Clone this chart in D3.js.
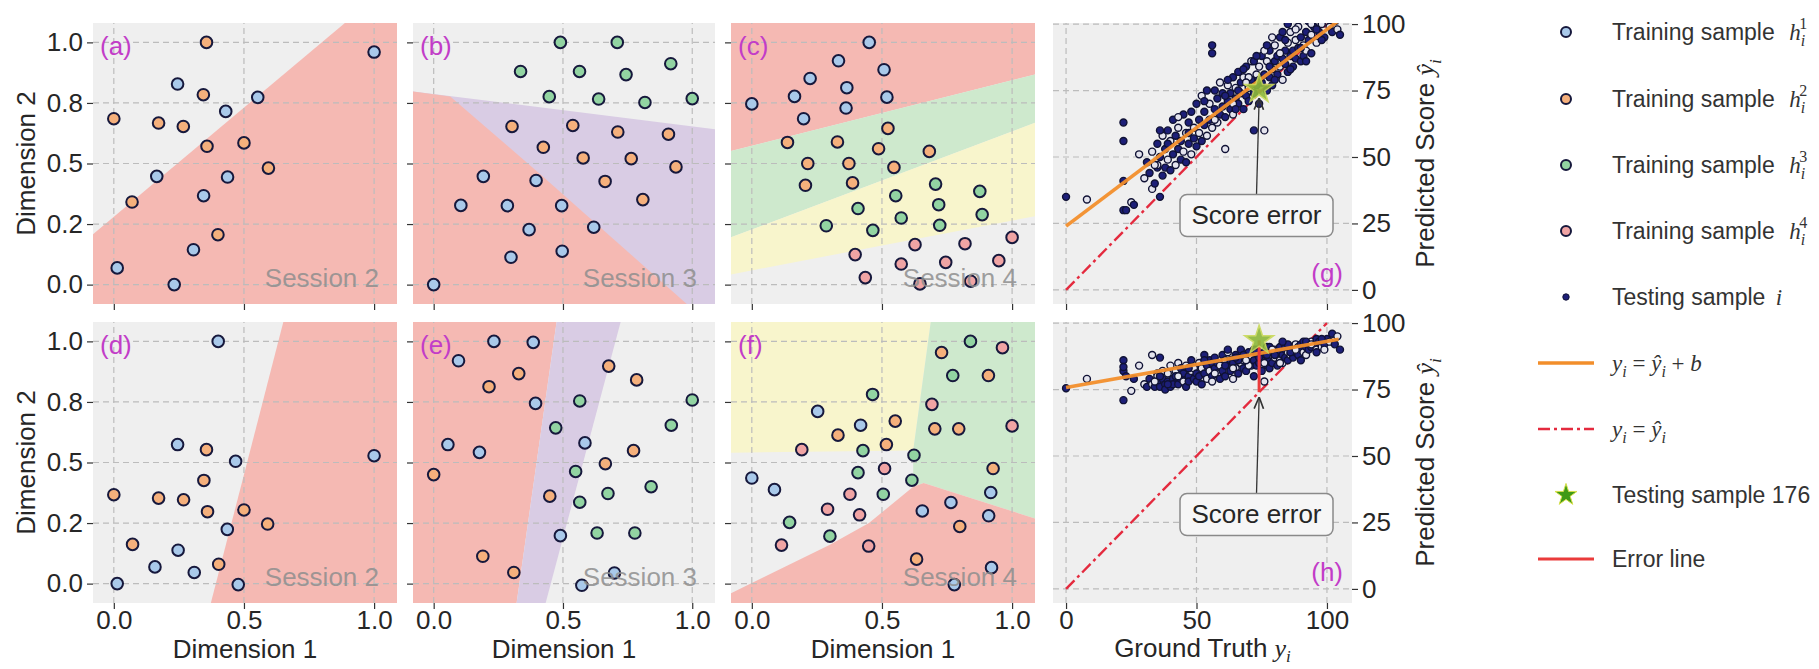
<!DOCTYPE html>
<html>
<head>
<meta charset="utf-8">
<script src="https://cdn.jsdelivr.net/npm/d3@7"></script>
<style>
  body { margin: 0; background: #fff; }
  svg { font-family: "Liberation Sans", Arial, sans-serif; }
  text { white-space: pre; }
</style>
</head>
<body>
<svg id="chart" width="1819" height="669"></svg>
<script>
// ---- training samples ([dim1, dim2]) ----
const aBlue = [[1.0,0.96],[0.245,0.828],[0.553,0.773],[0.43,0.715],[0.165,0.447],[0.437,0.444],[0.345,0.367],[0.306,0.144],[0.013,0.069],[0.232,0.0]];
const aOrange = [[0.356,1.0],[0.344,0.784],[0.0,0.685],[0.172,0.667],[0.267,0.653],[0.358,0.571],[0.5,0.585],[0.594,0.481],[0.07,0.341],[0.4,0.206]];

const bBlue = [[0.192,0.447],[0.396,0.43],[0.105,0.327],[0.285,0.326],[0.495,0.326],[0.369,0.227],[0.619,0.237],[0.299,0.113],[0.497,0.138],[0.0,0.0]];
const bOrange = [[0.303,0.653],[0.538,0.657],[0.712,0.63],[0.908,0.621],[0.424,0.567],[0.578,0.523],[0.764,0.52],[0.937,0.486],[0.663,0.426],[0.809,0.351]];
const bGreen = [[0.49,1.0],[0.71,1.0],[0.336,0.88],[0.564,0.88],[0.744,0.867],[0.917,0.912],[0.447,0.776],[0.638,0.766],[0.817,0.752],[1.0,0.768]];

const cBlue = [[0.451,1.0],[0.333,0.924],[0.508,0.887],[0.224,0.851],[0.365,0.813],[0.164,0.777],[0.519,0.774],[0.0,0.746],[0.362,0.729],[0.199,0.685]];
const cOrange = [[0.523,0.645],[0.137,0.587],[0.329,0.589],[0.487,0.561],[0.682,0.55],[0.215,0.5],[0.373,0.5],[0.546,0.484],[0.206,0.41],[0.387,0.42]];
const cGreen = [[0.706,0.415],[0.876,0.385],[0.553,0.367],[0.718,0.33],[0.408,0.314],[0.574,0.275],[0.885,0.289],[0.286,0.243],[0.465,0.224],[0.722,0.245]];
const cPink = [[1.0,0.195],[0.627,0.165],[0.819,0.169],[0.397,0.124],[0.574,0.085],[0.745,0.092],[0.949,0.099],[0.436,0.029],[0.646,0.003],[0.841,0.014]];

const dBlue = [[0.401,1.0],[0.245,0.574],[0.468,0.505],[1.0,0.528],[0.436,0.224],[0.247,0.138],[0.158,0.069],[0.309,0.046],[0.013,0.0],[0.478,-0.004]];
const dOrange = [[0.356,0.553],[0.346,0.426],[0.0,0.367],[0.172,0.353],[0.268,0.346],[0.36,0.297],[0.5,0.304],[0.591,0.246],[0.072,0.162],[0.403,0.08]];

const eBlue = [[0.233,1.0],[0.385,0.996],[0.096,0.92],[0.394,0.744],[0.055,0.574],[0.177,0.542],[0.585,0.581],[0.49,0.198],[0.699,0.044],[0.573,-0.007]];
const eOrange = [[0.677,0.898],[0.785,0.841],[0.329,0.867],[0.214,0.813],[0.773,0.549],[0.664,0.495],[0.0,0.45],[0.449,0.361],[0.19,0.113],[0.31,0.046]];
const eGreen = [[1.0,0.758],[0.565,0.754],[0.472,0.643],[0.919,0.654],[0.549,0.463],[0.841,0.4],[0.674,0.372],[0.565,0.336],[0.632,0.209],[0.778,0.209]];

const fBlue = [[0.253,0.711],[0.418,0.654],[0.0,0.436],[0.087,0.388],[0.655,0.3],[0.765,0.335],[0.918,0.376],[0.91,0.28],[0.921,0.066],[0.778,-0.004]];
const fOrange = [[0.729,0.954],[0.909,0.859],[0.551,0.671],[0.703,0.639],[0.795,0.639],[0.331,0.613],[0.517,0.574],[0.927,0.475],[0.799,0.236],[0.633,0.101]];
const fGreen = [[0.84,1.0],[0.772,0.859],[0.464,0.781],[0.427,0.549],[0.623,0.53],[0.408,0.458],[0.615,0.427],[0.505,0.369],[0.145,0.253],[0.3,0.196]];
const fPink = [[0.963,0.974],[0.692,0.74],[1.0,0.651],[0.192,0.553],[0.51,0.475],[0.377,0.369],[0.291,0.307],[0.414,0.284],[0.114,0.159],[0.449,0.155]];

// ---- decision regions (polygons in data space) ----
const aPinkArea = [[-0.1,0.19],[0.91,1.1],[1.1,1.1],[1.1,-0.1],[-0.1,-0.1]];
const bPurpleArea = [[-0.1,0.80],[1.1,0.64],[1.1,-0.1],[-0.1,-0.1]];
const bPinkArea = [[-0.1,0.80],[0.064,0.777],[0.41,0.458],[1.0,-0.1],[-0.1,-0.1]];
const cPinkArea = [[-0.1,0.546],[1.1,0.871],[1.1,1.1],[-0.1,1.1]];
const cGreenArea = [[-0.1,0.187],[1.1,0.673],[1.1,0.871],[-0.1,0.546]];
const cYellowArea = [[-0.1,0.038],[1.1,0.285],[1.1,0.673],[-0.1,0.187]];
const dPinkArea = [[0.368,-0.1],[0.656,1.1],[1.1,1.1],[1.1,-0.1]];
const ePinkArea = [[-0.1,1.1],[0.478,1.1],[0.318,-0.1],[-0.1,-0.1]];
const ePurpleArea = [[0.478,1.1],[0.728,1.1],[0.428,-0.1],[0.318,-0.1]];
const fYellowArea = [[-0.1,1.1],[0.69,1.1],[0.62,0.55],[-0.1,0.54]];
const fGreenArea = [[0.69,1.1],[1.1,1.1],[1.1,0.265],[0.66,0.415],[0.62,0.40],[0.62,0.55]];
const fPinkArea = [[-0.1,-0.05],[0.3,0.16],[0.45,0.25],[0.62,0.40],[0.66,0.415],[1.1,0.265],[1.1,-0.1],[-0.1,-0.1]];

// ---- testing samples: ground truth, prediction in (g), prediction in (h) ----
const testTruth = [0,8,22,22,25,22,22,28,23,26,33,36,35,
  30,31,32,33,34,35,35,36,37,37,38,38,39,39,40,40,41,41,42,42,43,43,44,44,45,45,46,46,47,47,48,48,49,49,50,50,
  51,51,52,52,53,53,54,54,55,55,56,56,56,57,57,58,58,59,59,60,60,61,61,62,62,63,63,64,64,65,65,66,66,67,67,68,68,
  69,69,70,70,71,71,72,72,73,73,74,74,75,75,76,76,77,77,78,78,79,79,80,80,81,81,82,82,83,83,84,84,85,85,86,86,
  87,87,88,88,89,89,90,90,91,91,92,92,93,93,94,94,95,96,96,97,98,99,100,101,102,103,104,105,
  62,64,66,68,70,72,74,76,78,80,82,84,86,88,90,92,94,96,98,99,85,83,79,77,73,69,65,61,57,53,47,43,39,36,34];
const testPredG = [35,34,41,30,33,63,56,51,30,32,38,35,46,
  42,48,44,52,40,55,47,50,43,58,46,53,49,60,45,56,51,64,47,58,53,61,49,56,52,66,48,59,55,63,51,67,57,61,54,70,
  59,64,56,73,62,67,58,75,64,70,92,89,61,68,75,63,72,66,78,69,74,53,65,71,77,68,74,66,80,72,76,70,82,74,78,68,80,
  73,84,76,71,79,86,60,74,81,77,70,84,78,88,60,81,75,86,80,90,83,77,86,92,81,88,84,95,87,79,90,85,93,82,88,97,
  90,84,94,87,91,99,86,95,92,88,97,90,94,101,96,89,99,93,102,97,100,95,103,99,97,101,98,96,
  79,70,75,83,80,86,79,90,84,79,89,94,83,98,91,86,100,98,94,103,100,97,95,92,88,78,68,73,64,71,59,65,55,60,47];
const testPredH = [75.5,79,86,82,74.5,71,83.5,84,80,79,88,87,81,
  77,76,79,77,76,78,80,76,79,82,77,75,81,78,76,84,79,77,82,80,77,85,79,83,78,81,76,84,80,78,82,86,79,83,81,78,
  85,80,77,83,88,81,79,84,86,82,80,85,78,83,87,81,85,79,84,88,82,86,80,84,89,82,86,79,85,88,83,81,87,85,90,83,86,
  88,82,85,89,84,87,80,86,90,84,85,88,82,86,78,89,84,91,86,83,88,85,90,87,84,89,86,91,88,85,90,87,89,86,91,88,
  87,90,92,89,88,91,90,92,89,93,91,88,92,90,93,91,92,90,94,93,91,92,94,93,96,92,95,90,
  90,83,86,88,84,90,87,85,91,88,85,91,89,90,86,93,92,89,94,90,92,93,90,88,89,86,87,84,81,86,83,80,77,80,78];

const starTruth = 74, starPredG = 75.5, starPredH = 93.5;   // testing sample 176
const fitG = [24, 0.74];      // intercept, slope of y_i = ŷ_i + b in (g)
const fitH = [75.8, 0.173];   // same in (h)
const fitRange = [0, 104.5];
const identityRange = [0, 100];
const boxAt = [73, 28];       // "Score error" box centre (data)

// ---- ticks ----
const dimXTicks = [0, 0.5, 1], dimXLabels = ["0.0", "0.5", "1.0"];
const dimYTicks = [0, 0.25, 0.5, 0.75, 1], dimYLabels = ["0.0", "0.2", "0.5", "0.8", "1.0"];
const scoreXTicks = [0, 50, 100], scoreYTicks = [0, 25, 50, 75, 100];

// ---- layout ----
const svg = d3.select("#chart");
const colX = [93, 413, 731, 1053], colW = [304, 302, 304, 299];
const rowY = [23, 322], rowH = 281;
const colors = {
  blue: "#a9c9ea", orange: "#f5b07c", green: "#92d4a2", pink: "#f0a4a4",
  areaPink: "#f5b9b3", areaPurple: "#d9cce4", areaGreen: "#cee9cd", areaYellow: "#f8f5cc",
  bg: "#efefef", edge: "#16183c", grid: "#bcbcbc", text: "#262626", label: "#c23cc8"
};
const serif = "'Liberation Serif','DejaVu Serif',serif";

function mathText(sel, parts, subDy = 7, subSize = 17) {
  let shift = 0;
  parts.forEach(([s, type, dx]) => {
    const ts = sel.append("tspan").text(s);
    let target = 0;
    if (type === "sub") target = subDy;
    if (type === "sup") target = -11;
    if (target - shift !== 0) ts.attr("dy", target - shift);
    shift = target;
    if (type !== "t") ts.attr("font-family", serif);
    if (type === "m" || type === "sub") ts.attr("font-style", "italic");
    if (type === "sub" || type === "sup") ts.attr("font-size", subSize + "px");
    if (type === "sup") ts.attr("dx", -6);
    if (dx) ts.attr("dx", dx);
  });
}

function styleAxis(g) {
  g.select(".domain").remove();
  g.selectAll(".tick line").attr("stroke", "#333").attr("stroke-width", 1.2);
  g.selectAll(".tick text").attr("font-size", "26px").attr("fill", colors.text)
    .attr("font-family", "'Liberation Sans',Arial,sans-serif");
}

let clipCount = 0;
function panelFrame(col, row) {
  const x0 = colX[col], y0 = rowY[row], w = colW[col];
  const id = "clip" + (clipCount++);
  svg.append("clipPath").attr("id", id).append("rect")
    .attr("x", x0).attr("y", y0).attr("width", w).attr("height", rowH);
  const g = svg.append("g").attr("clip-path", `url(#${id})`);
  g.append("rect").attr("x", x0).attr("y", y0).attr("width", w).attr("height", rowH).attr("fill", colors.bg);
  return g;
}

function drawGrid(g, x, y, xt, yt) {
  const grid = g.append("g").attr("stroke", colors.grid).attr("stroke-width", 1.2).attr("stroke-dasharray", "6,4");
  grid.selectAll(".gx").data(xt).enter().append("line")
    .attr("x1", d => x(d)).attr("x2", d => x(d)).attr("y1", y.range()[0]).attr("y2", y.range()[1]);
  grid.selectAll(".gy").data(yt).enter().append("line")
    .attr("y1", d => y(d)).attr("y2", d => y(d)).attr("x1", x.range()[0]).attr("x2", x.range()[1]);
}

const polyLine = (x, y) => d3.line().x(d => x(d[0])).y(d => y(d[1]));

function drawDimPanel(col, row, areas, groups, label, session) {
  const x0 = colX[col], y0 = rowY[row], w = colW[col];
  const x = d3.scaleLinear().domain([-0.08, 1.088]).range([x0, x0 + w]);
  const y = d3.scaleLinear().domain([-0.08, 1.08]).range([y0 + rowH, y0]);
  const g = panelFrame(col, row);
  areas.forEach(([pts, c]) => {
    g.append("path").attr("d", polyLine(x, y)(pts) + "Z").attr("fill", colors[c]);
  });
  drawGrid(g, x, y, dimXTicks, dimYTicks);
  groups.forEach(([pts, c]) => {
    g.selectAll(null).data(pts).enter().append("circle")
      .attr("cx", d => x(d[0])).attr("cy", d => y(d[1])).attr("r", 5.8)
      .attr("fill", colors[c]).attr("stroke", colors.edge).attr("stroke-width", 2);
  });
  g.append("text").attr("x", x0 + w - 18).attr("y", y0 + rowH - 17).attr("text-anchor", "end")
    .attr("font-size", "26px").attr("fill", "#8e8e8e").attr("fill-opacity", 0.85).text(session);
  g.append("text").attr("x", x0 + 7).attr("y", y0 + 32).attr("font-size", "26px")
    .attr("fill", colors.label).text(label);

  const ax = svg.append("g").attr("transform", `translate(0,${y0 + rowH})`)
    .call(d3.axisBottom(x).tickValues(dimXTicks).tickSize(6).tickPadding(2)
      .tickFormat((d, i) => row === 1 ? dimXLabels[i] : ""));
  styleAxis(ax);
  const ay = svg.append("g").attr("transform", `translate(${x0},0)`)
    .call(d3.axisLeft(y).tickValues(dimYTicks).tickSize(6).tickPadding(4)
      .tickFormat((d, i) => col === 0 ? dimYLabels[i] : ""));
  styleAxis(ay);

  if (row === 1) {
    svg.append("text").attr("x", x0 + w / 2).attr("y", 658).attr("text-anchor", "middle")
      .attr("font-size", "26px").attr("fill", colors.text).text("Dimension 1");
  }
  if (col === 0) {
    svg.append("text").attr("transform", `translate(35,${y0 + rowH / 2}) rotate(-90)`)
      .attr("text-anchor", "middle").attr("font-size", "26px").attr("fill", colors.text).text("Dimension 2");
  }
}

drawDimPanel(0, 0, [[aPinkArea, "areaPink"]], [[aBlue, "blue"], [aOrange, "orange"]], "(a)", "Session 2");
drawDimPanel(1, 0, [[bPurpleArea, "areaPurple"], [bPinkArea, "areaPink"]],
  [[bBlue, "blue"], [bOrange, "orange"], [bGreen, "green"]], "(b)", "Session 3");
drawDimPanel(2, 0, [[cPinkArea, "areaPink"], [cGreenArea, "areaGreen"], [cYellowArea, "areaYellow"]],
  [[cBlue, "blue"], [cOrange, "orange"], [cGreen, "green"], [cPink, "pink"]], "(c)", "Session 4");
drawDimPanel(0, 1, [[dPinkArea, "areaPink"]], [[dBlue, "blue"], [dOrange, "orange"]], "(d)", "Session 2");
drawDimPanel(1, 1, [[ePinkArea, "areaPink"], [ePurpleArea, "areaPurple"]],
  [[eBlue, "blue"], [eOrange, "orange"], [eGreen, "green"]], "(e)", "Session 3");
drawDimPanel(2, 1, [[fYellowArea, "areaYellow"], [fGreenArea, "areaGreen"], [fPinkArea, "areaPink"]],
  [[fBlue, "blue"], [fOrange, "orange"], [fGreen, "green"], [fPink, "pink"]], "(f)", "Session 4");

// arrow head
svg.append("defs").append("marker").attr("id", "arrow").attr("viewBox", "0 0 10 10")
  .attr("refX", 9).attr("refY", 5).attr("markerWidth", 9).attr("markerHeight", 9).attr("orient", "auto-start-reverse")
  .append("path").attr("d", "M0,1 L10,5 L0,9").attr("fill", "none").attr("stroke", "#333").attr("stroke-width", 1.4);

function drawScorePanel(row, pred, fit, starPred, label) {
  const col = 3, x0 = colX[col], y0 = rowY[row], w = colW[col];
  const x = d3.scaleLinear().domain([-5, 109.6]).range([x0, x0 + w]);
  const y = d3.scaleLinear().domain([-5.3, 100.4]).range([y0 + rowH, y0]);
  const g = panelFrame(col, row);
  drawGrid(g, x, y, scoreXTicks, scoreYTicks);

  g.append("line").attr("x1", x(identityRange[0])).attr("y1", y(identityRange[0]))
    .attr("x2", x(identityRange[1])).attr("y2", y(identityRange[1]))
    .attr("stroke", "#e42a3e").attr("stroke-width", 2.4).attr("stroke-dasharray", "12,4,3,4");

  g.selectAll(null).data(testTruth).enter().append("circle")
    .attr("cx", d => x(d)).attr("cy", (d, i) => y(pred[i])).attr("r", 3.5)
    .attr("fill", (d, i) => i % 3 === 1 ? "#e4e4ee" : "#1d1f78")
    .attr("stroke", "#101235").attr("stroke-width", 1.4);

  g.append("line").attr("x1", x(fitRange[0])).attr("y1", y(fit[0] + fit[1] * fitRange[0]))
    .attr("x2", x(fitRange[1])).attr("y2", y(fit[0] + fit[1] * fitRange[1]))
    .attr("stroke", "#f28e2b").attr("stroke-width", 3.6).attr("stroke-opacity", 0.95);

  g.append("line").attr("x1", x(starTruth)).attr("x2", x(starTruth))
    .attr("y1", y(starPred)).attr("y2", y(starTruth))
    .attr("stroke", "#ea3b3b").attr("stroke-width", 3);

  g.append("path").attr("d", d3.symbol().type(d3.symbolStar).size(260)())
    .attr("transform", `translate(${x(starTruth)},${y(starPred)})`)
    .attr("fill", "#8db83a").attr("stroke", "#c9d95a").attr("stroke-width", 1.5).attr("opacity", 0.9);

  // annotation
  const bw = 153, bh = 42, bx = x(boxAt[0]), by = y(boxAt[1]);
  g.append("line").attr("x1", bx).attr("y1", by - bh / 2)
    .attr("x2", x(starTruth)).attr("y2", y(starTruth) + 6)
    .attr("stroke", "#333").attr("stroke-width", 1.3).attr("marker-end", "url(#arrow)");
  g.append("rect").attr("x", bx - bw / 2).attr("y", by - bh / 2).attr("width", bw).attr("height", bh)
    .attr("rx", 7).attr("fill", "#f6f6f6").attr("stroke", "#8a8a8a").attr("stroke-width", 1.5);
  g.append("text").attr("x", bx).attr("y", by + 9).attr("text-anchor", "middle")
    .attr("font-size", "26px").attr("fill", colors.text).text("Score error");

  g.append("text").attr("x", x0 + w - 9).attr("y", y0 + rowH - 22).attr("text-anchor", "end")
    .attr("font-size", "26px").attr("fill", colors.label).text(label);

  const ax = svg.append("g").attr("transform", `translate(0,${y0 + rowH})`)
    .call(d3.axisBottom(x).tickValues(scoreXTicks).tickSize(6).tickPadding(2)
      .tickFormat(d => row === 1 ? d : ""));
  styleAxis(ax);
  const ay = svg.append("g").attr("transform", `translate(${x0 + w},0)`)
    .call(d3.axisRight(y).tickValues(scoreYTicks).tickSize(6).tickPadding(4));
  styleAxis(ay);

  const yl = svg.append("text").attr("transform", `translate(1434,${y0 + rowH / 2}) rotate(-90)`)
    .attr("text-anchor", "middle").attr("font-size", "26px").attr("fill", colors.text);
  mathText(yl, [["Predicted Score ", "t"], ["ŷ", "m"], ["i", "sub"]]);
  if (row === 1) {
    const xl = svg.append("text").attr("x", x0 + w / 2).attr("y", 657).attr("text-anchor", "middle")
      .attr("font-size", "26px").attr("fill", colors.text);
    mathText(xl, [["Ground Truth ", "t"], ["y", "m"], ["i", "sub"]], 5);
  }
}

drawScorePanel(0, testPredG, fitG, starPredG, "(g)");
drawScorePanel(1, testPredH, fitH, starPredH, "(h)");

// ---- legend ----
const legendY = [32, 99, 165, 231, 297, 363, 429, 495, 559];
const legendParts = [
  [["Training sample ", "t"], ["h", "m", 8], ["i", "sub"], ["1", "sup"]],
  [["Training sample ", "t"], ["h", "m", 8], ["i", "sub"], ["2", "sup"]],
  [["Training sample ", "t"], ["h", "m", 8], ["i", "sub"], ["3", "sup"]],
  [["Training sample ", "t"], ["h", "m", 8], ["i", "sub"], ["4", "sup"]],
  [["Testing sample ", "t"], ["i", "m", 4]],
  [["y", "m"], ["i", "sub"], [" = ", "s"], ["ŷ", "m"], ["i", "sub"], [" + ", "s"], ["b", "m"]],
  [["y", "m"], ["i", "sub"], [" = ", "s"], ["ŷ", "m"], ["i", "sub"]],
  [["Testing sample 176", "t"]],
  [["Error line", "t"]]
];
const legend = svg.append("g");
const mx = 1566, tx = 1612, lx1 = 1538, lx2 = 1594;
["blue", "orange", "green", "pink"].forEach((c, i) => {
  legend.append("circle").attr("cx", mx).attr("cy", legendY[i]).attr("r", 5)
    .attr("fill", colors[c]).attr("stroke", colors.edge).attr("stroke-width", 2);
});
legend.append("circle").attr("cx", mx).attr("cy", legendY[4]).attr("r", 3.2).attr("fill", "#1d1f78").attr("stroke", "#101235");
legend.append("line").attr("x1", lx1).attr("x2", lx2).attr("y1", legendY[5]).attr("y2", legendY[5])
  .attr("stroke", "#f28e2b").attr("stroke-width", 3.6);
legend.append("line").attr("x1", lx1).attr("x2", lx2).attr("y1", legendY[6]).attr("y2", legendY[6])
  .attr("stroke", "#e42a3e").attr("stroke-width", 2.4).attr("stroke-dasharray", "12,4,3,4");
legend.append("path").attr("d", d3.symbol().type(d3.symbolStar).size(150)())
  .attr("transform", `translate(${mx},${legendY[7]})`).attr("fill", "#3f9a16").attr("stroke", "#d7e04a").attr("stroke-width", 1);
legend.append("line").attr("x1", lx1).attr("x2", lx2).attr("y1", legendY[8]).attr("y2", legendY[8])
  .attr("stroke", "#ea3b3b").attr("stroke-width", 3);
legendParts.forEach((parts, i) => {
  const t = legend.append("text").attr("x", tx).attr("y", legendY[i] + 8)
    .attr("font-size", "23px").attr("fill", "#333");
  mathText(t, parts, 6, 16);
});
</script>
</body>
</html>
